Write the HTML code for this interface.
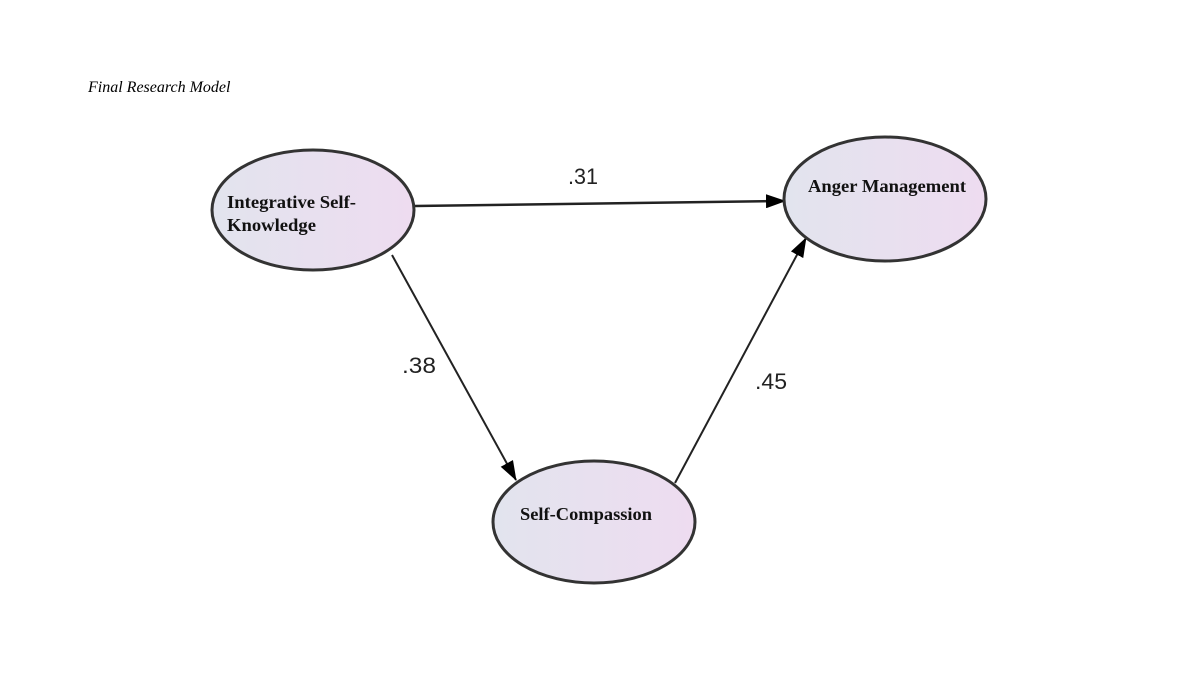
<!DOCTYPE html>
<html><head><meta charset="utf-8"><style>
html,body{margin:0;padding:0;background:#fff;}
</style></head><body>
<svg width="1185" height="675" xmlns="http://www.w3.org/2000/svg">
<defs>
<linearGradient id="g" x1="0" y1="0" x2="1" y2="0">
<stop offset="0" stop-color="#e2e4ee"/><stop offset="1" stop-color="#eedcf0"/>
</linearGradient>
<marker id="a" markerWidth="20" markerHeight="14" refX="19" refY="7" orient="auto" markerUnits="userSpaceOnUse">
<path d="M0,0 L20,7 L0,14 Z" fill="#000"/>
</marker>
</defs>
<text x="88" y="92" font-family="Liberation Serif, serif" font-style="italic" font-size="16">Final Research Model</text>
<line x1="415" y1="206" x2="785" y2="201" stroke="#222" stroke-width="2.5" marker-end="url(#a)"/>
<line x1="392" y1="255" x2="516" y2="480" stroke="#222" stroke-width="2" marker-end="url(#a)"/>
<line x1="675" y1="483" x2="806" y2="238" stroke="#222" stroke-width="2" marker-end="url(#a)"/>
<ellipse cx="313" cy="210" rx="101" ry="60" fill="url(#g)" stroke="#333" stroke-width="3"/>
<ellipse cx="885" cy="199" rx="101" ry="62" fill="url(#g)" stroke="#333" stroke-width="3"/>
<ellipse cx="594" cy="522" rx="101" ry="61" fill="url(#g)" stroke="#333" stroke-width="3"/>
<g font-family="Liberation Serif, serif" font-weight="bold" font-size="18" fill="#111">
<text x="227" y="208" textLength="129" lengthAdjust="spacingAndGlyphs">Integrative Self-</text>
<text x="227" y="231" textLength="89" lengthAdjust="spacingAndGlyphs">Knowledge</text>
<text x="808" y="192" textLength="158" lengthAdjust="spacingAndGlyphs">Anger Management</text>
<text x="520" y="520" textLength="132" lengthAdjust="spacingAndGlyphs">Self-Compassion</text>
</g>
<g font-family="Liberation Sans, sans-serif" font-size="22" fill="#222">
<text x="568" y="184" textLength="30" lengthAdjust="spacingAndGlyphs">.31</text>
<text x="402" y="373" textLength="34" lengthAdjust="spacingAndGlyphs">.38</text>
<text x="755" y="389" textLength="32" lengthAdjust="spacingAndGlyphs">.45</text>
</g>
</svg>
</body></html>
